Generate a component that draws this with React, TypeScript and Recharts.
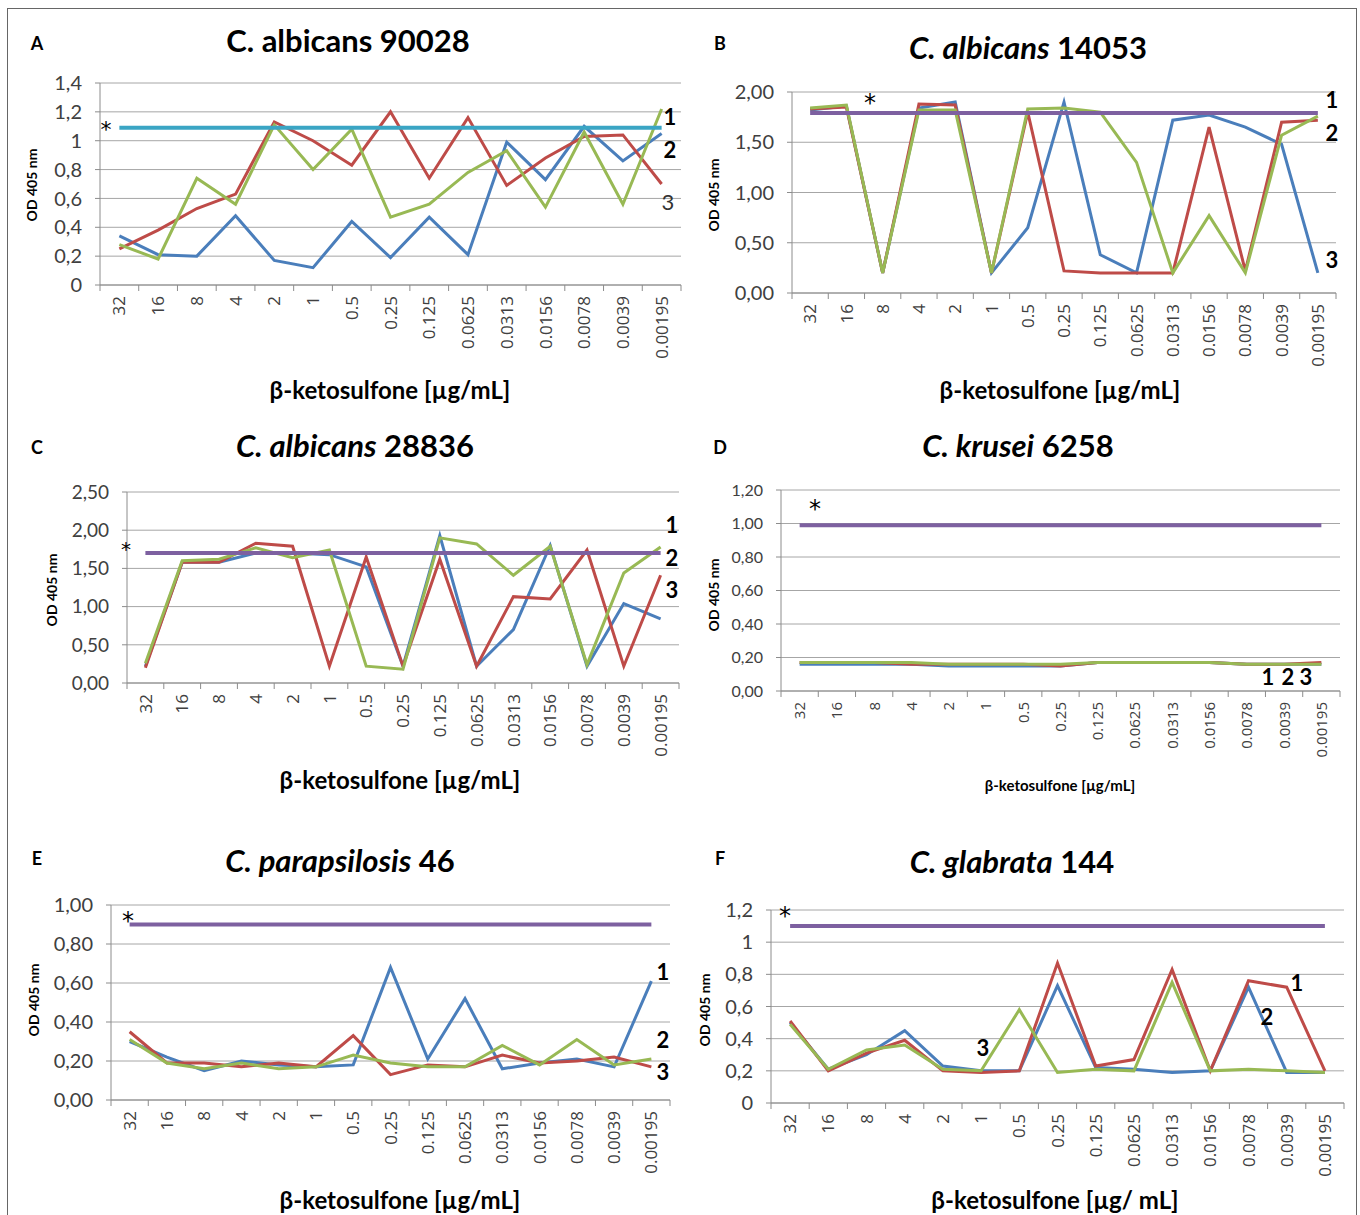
import React from 'react';
import { LineChart, Line, XAxis, YAxis, CartesianGrid } from 'recharts';

const concentrations = ['32', '16', '8', '4', '2', '1', '0.5', '0.25', '0.125', '0.0625', '0.0313', '0.0156', '0.0078', '0.0039', '0.00195'];

// Panel A – C. albicans 90028
const aBlue = [0.34, 0.21, 0.20, 0.48, 0.17, 0.12, 0.44, 0.19, 0.47, 0.21, 0.99, 0.73, 1.10, 0.86, 1.05];
const aRed = [0.25, 0.38, 0.53, 0.63, 1.13, 1.00, 0.83, 1.20, 0.74, 1.16, 0.69, 0.88, 1.03, 1.04, 0.70];
const aGreen = [0.28, 0.18, 0.74, 0.56, 1.11, 0.80, 1.08, 0.47, 0.56, 0.78, 0.93, 0.54, 1.06, 0.56, 1.22];
const aRef = 1.09;
const aTicks = [0, 0.2, 0.4, 0.6, 0.8, 1, 1.2, 1.4];

// Panel B – C. albicans 14053
const bBlue = [1.82, 1.86, 0.20, 1.84, 1.90, 0.20, 0.65, 1.90, 0.38, 0.20, 1.72, 1.77, 1.65, 1.48, 0.20];
const bRed = [1.83, 1.85, 0.20, 1.88, 1.87, 0.20, 1.80, 0.22, 0.20, 0.20, 0.20, 1.65, 0.22, 1.70, 1.72];
const bGreen = [1.84, 1.87, 0.20, 1.82, 1.82, 0.20, 1.83, 1.84, 1.80, 1.30, 0.20, 0.77, 0.20, 1.57, 1.76];
const bRef = 1.79;
const bTicks = [0, 0.5, 1, 1.5, 2];

// Panel C – C. albicans 28836
const cBlue = [0.22, 1.58, 1.58, 1.70, 1.70, 1.68, 1.52, 0.22, 1.93, 0.22, 0.70, 1.80, 0.22, 1.04, 0.84];
const cRed = [0.20, 1.58, 1.58, 1.83, 1.79, 0.22, 1.65, 0.22, 1.62, 0.22, 1.13, 1.10, 1.74, 0.22, 1.41];
const cGreen = [0.26, 1.60, 1.62, 1.77, 1.64, 1.74, 0.22, 0.18, 1.90, 1.82, 1.41, 1.79, 0.24, 1.44, 1.78];
const cRef = 1.70;
const cTicks = [0, 0.5, 1, 1.5, 2, 2.5];

// Panel D – C. krusei 6258
const dBlue = [0.16, 0.16, 0.16, 0.16, 0.15, 0.15, 0.15, 0.15, 0.17, 0.17, 0.17, 0.17, 0.16, 0.16, 0.16];
const dRed = [0.17, 0.17, 0.17, 0.16, 0.16, 0.16, 0.16, 0.15, 0.17, 0.17, 0.17, 0.17, 0.16, 0.16, 0.17];
const dGreen = [0.17, 0.17, 0.17, 0.17, 0.16, 0.16, 0.16, 0.16, 0.17, 0.17, 0.17, 0.17, 0.16, 0.16, 0.16];
const dRef = 0.99;
const dTicks = [0, 0.2, 0.4, 0.6, 0.8, 1, 1.2];

// Panel E – C. parapsilosis 46
const eBlue = [0.30, 0.22, 0.15, 0.20, 0.18, 0.17, 0.18, 0.68, 0.21, 0.52, 0.16, 0.19, 0.21, 0.17, 0.61];
const eRed = [0.35, 0.19, 0.19, 0.17, 0.19, 0.17, 0.33, 0.13, 0.18, 0.17, 0.23, 0.19, 0.20, 0.22, 0.17];
const eGreen = [0.31, 0.19, 0.16, 0.19, 0.16, 0.17, 0.23, 0.19, 0.17, 0.17, 0.28, 0.18, 0.31, 0.18, 0.21];
const eRef = 0.90;
const eTicks = [0, 0.2, 0.4, 0.6, 0.8, 1];

// Panel F – C. glabrata 144
const fBlue = [0.50, 0.21, 0.30, 0.45, 0.23, 0.20, 0.20, 0.73, 0.22, 0.21, 0.19, 0.20, 0.72, 0.19, 0.19];
const fRed = [0.51, 0.20, 0.31, 0.39, 0.20, 0.19, 0.20, 0.87, 0.23, 0.27, 0.83, 0.20, 0.76, 0.72, 0.20];
const fGreen = [0.49, 0.21, 0.33, 0.36, 0.21, 0.20, 0.58, 0.19, 0.21, 0.20, 0.75, 0.20, 0.21, 0.20, 0.19];
const fRef = 1.10;
const fTicks = [0, 0.2, 0.4, 0.6, 0.8, 1, 1.2];

const BLUE = '#4a7ebb';
const RED = '#be4b48';
const GREEN = '#98b954';
const PURPLE = '#7d60a0';
const TEAL = '#3aa5c4';
const FONT = 'Lato, "Open Sans", sans-serif';
const TICK_FONT = '"Open Sans", Lato, sans-serif';
const AXIS_GRAY = '#8c8c8c';
const TEXT_GRAY = '#404040';

const fmt1 = (v: number) => String(Math.round(v * 10) / 10).replace('.', ',');
const fmt2 = (v: number) => v.toFixed(2).replace('.', ',');

function buildRows(blue: number[], red: number[], green: number[], ref: number) {
  return concentrations.map((c, i) => ({ c, s1: blue[i], s2: red[i], s3: green[i], ref }));
}

const Y_W = 80;
const X_H = 110;
const M_TOP = 14;
const M_RIGHT = 14;

type PanelProps = {
  plotLeft: number;
  plotTop: number;
  plotRight: number;
  plotBottom: number;
  ticks: number[];
  fmt: (v: number) => string;
  rows: any[];
  refColor: string;
  yFont: number;
  xFont: number;
};

function Panel(p: PanelProps) {
  const pw = p.plotRight - p.plotLeft;
  const ph = p.plotBottom - p.plotTop;
  const band = pw / concentrations.length;
  const width = pw + Y_W + M_RIGHT;
  const height = ph + M_TOP + X_H;
  const XTick = (props: any) => {
    const { x, y, payload, index } = props;
    return (
      <g>
        <line x1={x - band / 2} y1={y} x2={x - band / 2} y2={y + 6} stroke={AXIS_GRAY} strokeWidth={1} />
        {index === concentrations.length - 1 ? (
          <line x1={x + band / 2} y1={y} x2={x + band / 2} y2={y + 6} stroke={AXIS_GRAY} strokeWidth={1} />
        ) : null}
        <text
          transform={`translate(${x + p.xFont * 0.36},${y + 11}) rotate(-90)`}
          textAnchor="end"
          fontSize={p.xFont}
          fontFamily={TICK_FONT}
          fill={TEXT_GRAY}
        >
          {payload.value}
        </text>
      </g>
    );
  };
  return (
    <div style={{ position: 'absolute', left: p.plotLeft - Y_W, top: p.plotTop - M_TOP }}>
      <LineChart width={width} height={height} data={p.rows} margin={{ top: M_TOP, right: M_RIGHT, left: 0, bottom: 0 }}>
        <CartesianGrid vertical={false} stroke="#a6a6a6" strokeWidth={1} />
        <XAxis
          dataKey="c"
          interval={0}
          height={X_H}
          padding={{ left: band / 2, right: band / 2 }}
          tickLine={false}
          tickSize={0}
          tickMargin={0}
          axisLine={{ stroke: AXIS_GRAY }}
          tick={XTick}
        />
        <YAxis
          width={Y_W}
          domain={[p.ticks[0], p.ticks[p.ticks.length - 1]]}
          ticks={p.ticks}
          interval={0}
          tickFormatter={p.fmt}
          tickLine={{ stroke: AXIS_GRAY }}
          tickSize={5}
          tickMargin={13}
          axisLine={{ stroke: AXIS_GRAY }}
          tick={{ fontSize: p.yFont, fill: TEXT_GRAY, fontFamily: FONT }}
        />
        <Line dataKey="s1" stroke={BLUE} strokeWidth={3} dot={false} isAnimationActive={false} />
        <Line dataKey="s2" stroke={RED} strokeWidth={3} dot={false} isAnimationActive={false} />
        <Line dataKey="s3" stroke={GREEN} strokeWidth={3} dot={false} isAnimationActive={false} />
        <Line dataKey="ref" stroke={p.refColor} strokeWidth={4} dot={false} isAnimationActive={false} />
      </LineChart>
    </div>
  );
}

function T(props: { x: number; y: number; size: number; bold?: boolean; rotate?: boolean; children: React.ReactNode; color?: string; font?: string }) {
  return (
    <div
      style={{
        position: 'absolute',
        left: props.x,
        top: props.y,
        transform: `translate(-50%,-50%)${props.rotate ? ' rotate(-90deg)' : ''}`,
        fontFamily: props.font || FONT,
        fontSize: props.size,
        fontWeight: props.bold ? 700 : 400,
        color: props.color || '#000',
        whiteSpace: 'nowrap',
        lineHeight: 1,
      }}
    >
      {props.children}
    </div>
  );
}

const STAR_FONT = '"DejaVu Sans", sans-serif';

export default function App() {
  return (
    <div style={{ position: 'absolute', left: 0, top: 0, width: 1360, height: 1215, background: '#fff', overflow: 'hidden', fontFamily: FONT }}>
      <div style={{ position: 'absolute', left: 7, top: 8, width: 1348, height: 1230, border: '1px solid #666' }} />

      <Panel plotLeft={100} plotTop={83} plotRight={681} plotBottom={285} ticks={aTicks} fmt={fmt1} rows={buildRows(aBlue, aRed, aGreen, aRef)} refColor={TEAL} yFont={20} xFont={17} />
      <Panel plotLeft={792} plotTop={92} plotRight={1336} plotBottom={293} ticks={bTicks} fmt={fmt2} rows={buildRows(bBlue, bRed, bGreen, bRef)} refColor={PURPLE} yFont={20} xFont={17} />
      <Panel plotLeft={127} plotTop={492} plotRight={679} plotBottom={683} ticks={cTicks} fmt={fmt2} rows={buildRows(cBlue, cRed, cGreen, cRef)} refColor={PURPLE} yFont={19} xFont={17} />
      <Panel plotLeft={781} plotTop={490} plotRight={1340} plotBottom={691} ticks={dTicks} fmt={fmt2} rows={buildRows(dBlue, dRed, dGreen, dRef)} refColor={PURPLE} yFont={16} xFont={15} />
      <Panel plotLeft={111} plotTop={905} plotRight={670} plotBottom={1100} ticks={eTicks} fmt={fmt2} rows={buildRows(eBlue, eRed, eGreen, eRef)} refColor={PURPLE} yFont={20} xFont={17} />
      <Panel plotLeft={771} plotTop={910} plotRight={1344} plotBottom={1103} ticks={fTicks} fmt={fmt1} rows={buildRows(fBlue, fRed, fGreen, fRef)} refColor={PURPLE} yFont={20} xFont={17} />

      {/* Panel letters */}
      <T x={37} y={43} size={18} bold>A</T>
      <T x={720} y={43} size={18} bold>B</T>
      <T x={37} y={447} size={18} bold>C</T>
      <T x={720} y={447} size={18} bold>D</T>
      <T x={37} y={858} size={18} bold>E</T>
      <T x={720} y={858} size={18} bold>F</T>

      {/* Titles */}
      <T x={348} y={40} size={31} bold>C. albicans 90028</T>
      <T x={1028} y={47} size={31} bold><i>C. albicans</i> 14053</T>
      <T x={355} y={445} size={31} bold><i>C. albicans</i> 28836</T>
      <T x={1018} y={445} size={31} bold><i>C. krusei</i> 6258</T>
      <T x={340} y={860} size={31} bold><i>C. parapsilosis</i> 46</T>
      <T x={1012} y={861} size={31} bold><i>C. glabrata</i> 144</T>

      {/* Y axis titles */}
      <T x={32} y={185} size={14} bold rotate>OD 405 nm</T>
      <T x={714} y={195} size={14} bold rotate>OD 405 nm</T>
      <T x={52} y={590} size={14} bold rotate>OD 405 nm</T>
      <T x={714} y={595} size={14} bold rotate>OD 405 nm</T>
      <T x={34} y={1000} size={14} bold rotate>OD 405 nm</T>
      <T x={705} y={1010} size={14} bold rotate>OD 405 nm</T>

      {/* X axis titles */}
      <T x={390} y={390} size={24} bold>β-ketosulfone [µg/mL]</T>
      <T x={1060} y={390} size={24} bold>β-ketosulfone [µg/mL]</T>
      <T x={400} y={780} size={24} bold>β-ketosulfone [µg/mL]</T>
      <T x={1060} y={785} size={15} bold>β-ketosulfone [µg/mL]</T>
      <T x={400} y={1200} size={24} bold>β-ketosulfone [µg/mL]</T>
      <T x={1055} y={1200} size={24} bold>β-ketosulfone [µg/ mL]</T>

      {/* Asterisks */}
      <T x={106} y={130} size={22} font={STAR_FONT}>*</T>
      <T x={870} y={103} size={24} font={STAR_FONT}>*</T>
      <T x={126} y={549} size={20} font={STAR_FONT}>*</T>
      <T x={815} y={509} size={24} font={STAR_FONT}>*</T>
      <T x={128} y={921} size={24} font={STAR_FONT}>*</T>
      <T x={785} y={916} size={24} font={STAR_FONT}>*</T>

      {/* Isolate labels */}
      <T x={670} y={117} size={22} bold>1</T>
      <T x={670} y={150} size={22} bold>2</T>
      <T x={668} y={202} size={22} color="#333">3</T>

      <T x={1332} y={100} size={22} bold>1</T>
      <T x={1332} y={133} size={22} bold>2</T>
      <T x={1332} y={260} size={22} bold>3</T>

      <T x={672} y={525} size={22} bold>1</T>
      <T x={672} y={558} size={22} bold>2</T>
      <T x={672} y={590} size={22} bold>3</T>

      <T x={1268} y={677} size={22} bold>1</T>
      <T x={1288} y={677} size={22} bold>2</T>
      <T x={1306} y={677} size={22} bold>3</T>

      <T x={663} y={972} size={22} bold>1</T>
      <T x={663} y={1040} size={22} bold>2</T>
      <T x={663} y={1072} size={22} bold>3</T>

      <T x={1297} y={983} size={22} bold>1</T>
      <T x={1267} y={1017} size={22} bold>2</T>
      <T x={983} y={1048} size={22} bold>3</T>
    </div>
  );
}
